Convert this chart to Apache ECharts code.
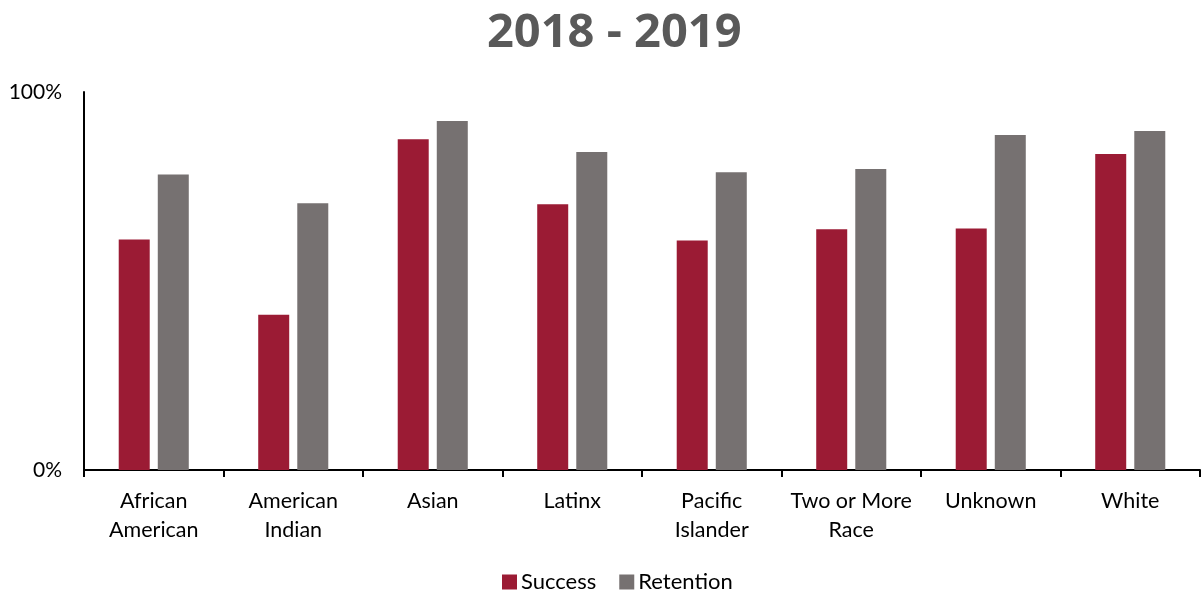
<!DOCTYPE html>
<html>
<head>
<meta charset="utf-8">
<script src="https://cdn.jsdelivr.net/npm/echarts@6/dist/echarts.min.js"></script>
<style>
  html, body { margin: 0; padding: 0; background: #fff; }
  #chart { width: 1201px; height: 596px; }
</style>
</head>
<body>
<div id="chart"></div>
<script>
// data (fractions of 100%)
const categories = ['African\nAmerican', 'American\nIndian', 'Asian', 'Latinx', 'Pacific\nIslander', 'Two or More\nRace', 'Unknown', 'White']
const success = [0.61, 0.411, 0.875, 0.703, 0.607, 0.637, 0.639, 0.836]
const retention = [0.782, 0.706, 0.923, 0.841, 0.788, 0.796, 0.886, 0.897]
const yTicks = ['0%', '100%']

const font = 'Lato, "Open Sans", sans-serif'
const chart = echarts.init(document.getElementById('chart'))
const option = {
  animation: false,
  title: {
    text: '2018 - 2019',
    left: 482,
    top: 5,
    textStyle: { color: '#595959', fontSize: 47, fontWeight: 'bold', fontFamily: '"Open Sans", sans-serif' }
  },
  legend: {
    data: ['Success', 'Retention'],
    bottom: -2,
    left: 497,
    itemWidth: 15,
    itemHeight: 15,
    itemGap: 23,
    icon: 'rect',
    textStyle: { color: '#000', fontSize: 22, fontFamily: font, padding: [0, 0, 0, -1] }
  },
  grid: { left: 84, right: 1, top: 92, bottom: 126 },
  xAxis: {
    type: 'category',
    data: categories,
    axisLine: { lineStyle: { color: '#000', width: 2 } },
    axisTick: { show: true, length: 7, lineStyle: { color: '#000', width: 2 } },
    axisLabel: { color: '#000', fontSize: 21.5, lineHeight: 29, margin: 17, fontFamily: font, interval: 0 }
  },
  yAxis: {
    type: 'value',
    min: 0,
    max: 1,
    interval: 1,
    axisLine: { show: true, lineStyle: { color: '#000', width: 2 } },
    axisTick: { show: false },
    splitLine: { show: false },
    axisLabel: {
      color: '#000', fontSize: 21, margin: 22, fontFamily: font,
      formatter: v => yTicks[Math.round(v)]
    }
  },
  series: [
    {
      name: 'Success',
      type: 'bar',
      data: success,
      barWidth: 31,
      barGap: '26%',
      itemStyle: { color: '#9B1B34' }
    },
    {
      name: 'Retention',
      type: 'bar',
      data: retention,
      barWidth: 31,
      itemStyle: { color: '#767171' }
    }
  ]
}
chart.setOption(option)
</script>
</body>
</html>
